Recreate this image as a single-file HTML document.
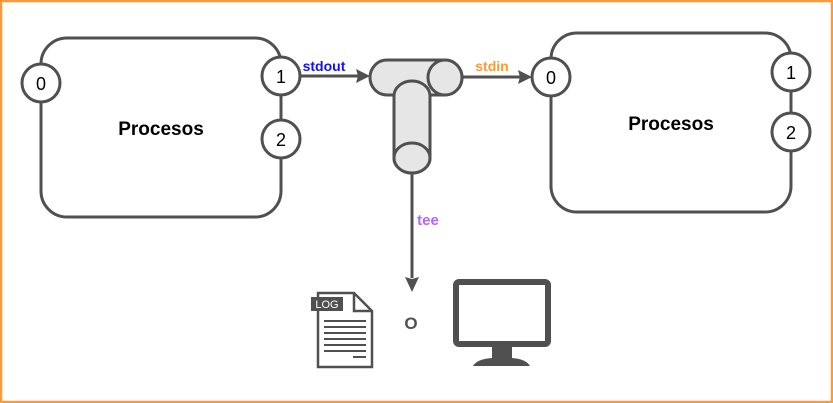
<!DOCTYPE html>
<html><head><style>body{margin:0}svg{display:block}</style></head><body>
<svg width="833" height="403" xmlns="http://www.w3.org/2000/svg" font-family="Liberation Sans, sans-serif">
<rect x="1" y="1" width="831" height="401" fill="#fff" stroke="#ff9a33" stroke-width="2.5"/>
<g stroke="#505050" stroke-width="3" fill="#fff">
<rect x="41" y="38" width="240" height="179" rx="26"/>
<rect x="551" y="33" width="240" height="179" rx="26"/>
<circle cx="41" cy="83" r="19"/><circle cx="281" cy="76" r="19"/><circle cx="281" cy="139" r="19"/>
<circle cx="551" cy="77" r="19"/><circle cx="791" cy="72" r="19"/><circle cx="791" cy="132" r="19"/>
</g>
<g font-size="18" text-anchor="middle" fill="#000">
<text x="41" y="90">0</text><text x="281" y="83">1</text><text x="281" y="146">2</text>
<text x="551" y="84">0</text><text x="791" y="79">1</text><text x="791" y="139">2</text>
</g>
<g font-size="19" font-weight="bold" text-anchor="middle">
<text x="161" y="135">Procesos</text><text x="671" y="130">Procesos</text></g>
<g stroke="#505050" stroke-width="3" fill="none">
<line x1="300" y1="76" x2="358" y2="76"/><line x1="462" y1="77" x2="520" y2="77"/>
<line x1="412" y1="173" x2="412" y2="278"/></g>
<g fill="#505050">
<path d="M370 76 L356 69 L358 76 L356 83Z"/><path d="M532 77 L518 70 L520 77 L518 84Z"/>
<path d="M412 292 L405 277 L412 279 L419 277Z"/></g>
<text x="324" y="71" font-size="14" font-weight="bold" fill="#1010ff" text-anchor="middle">stdout</text>
<text x="492" y="71" font-size="14" font-weight="bold" fill="#ff9a33" text-anchor="middle">stdin</text>
<text x="428" y="225" font-size="15" font-weight="bold" fill="#b266ff" text-anchor="middle">tee</text>
<g stroke="#505050" stroke-width="3" fill="#e6e6e6">
<path d="M387 60 H445 A17 17.5 0 0 1 445 95 H387 A17 17.5 0 0 1 387 60Z"/>
<ellipse cx="445" cy="77.5" rx="17" ry="17.5"/>
<path d="M394 96 A18 15 0 0 1 430 96 V158 A18 15 0 0 1 394 158Z"/>
<ellipse cx="412" cy="158" rx="18" ry="15"/>
</g>
<text x="411" y="329" font-size="17" font-weight="bold" fill="#505050" text-anchor="middle">O</text>
<path d="M318 293 H354 L372 311 V367 H318Z" fill="#fff" stroke="#505050" stroke-width="2.5"/>
<path d="M354 293 V311 H372" fill="none" stroke="#505050" stroke-width="2.5"/>
<rect x="311" y="297" width="32" height="14" fill="#505050"/>
<text x="327" y="308" font-size="11" fill="#fff" text-anchor="middle">LOG</text>
<g stroke="#505050" stroke-width="2">
<line x1="324" y1="321" x2="366" y2="321"/><line x1="324" y1="327" x2="366" y2="327"/><line x1="324" y1="333" x2="366" y2="333"/><line x1="324" y1="339" x2="366" y2="339"/><line x1="324" y1="345" x2="366" y2="345"/><line x1="324" y1="351" x2="366" y2="351"/><line x1="353" y1="357" x2="366" y2="357"/></g>
<rect x="456" y="282" width="92" height="62" rx="3" fill="#fff" stroke="#505050" stroke-width="6"/>
<path d="M492 346 H512 V358 Q526 359 530 366 H473 Q477 359 492 358Z" fill="#505050"/>
</svg>
</body></html>
